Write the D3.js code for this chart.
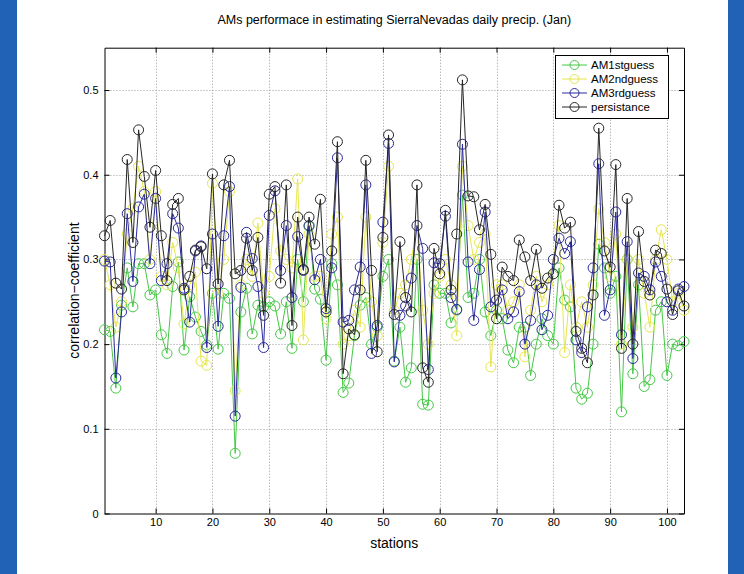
<!DOCTYPE html>
<html>
<head>
<meta charset="utf-8">
<script src="https://cdn.jsdelivr.net/npm/d3@7"></script>
<style>
  body { margin: 0; background: #2161b6; }
  #chart { position: absolute; left: 0; top: 0; }
  text { font-family: "Liberation Sans", Arial, sans-serif; fill: #000; }
</style>
</head>
<body>
<svg id="chart" width="744" height="574"></svg>
<script>
// Series, stations 1..103

const stations = d3.range(1, 104);

const am1stguess = [
  0.217, 0.215, 0.148, 0.246, 0.29, 0.244, 0.295, 0.295, 0.258, 0.264,
  0.211, 0.189, 0.268, 0.297, 0.193, 0.256, 0.232, 0.215, 0.199, 0.26,
  0.194, 0.26, 0.254, 0.071, 0.238, 0.266, 0.212, 0.246, 0.244, 0.25,
  0.245, 0.212, 0.25, 0.195, 0.3, 0.25, 0.339, 0.265, 0.253, 0.181,
  0.295, 0.27, 0.143, 0.154, 0.21, 0.246, 0.255, 0.2, 0.22, 0.28,
  0.3, 0.18, 0.22, 0.155, 0.172, 0.3, 0.129, 0.128, 0.27, 0.26,
  0.26, 0.225, 0.24, 0.376, 0.255, 0.26, 0.3, 0.238, 0.21, 0.24,
  0.23, 0.193, 0.178, 0.22, 0.22, 0.163, 0.2, 0.23, 0.21, 0.2,
  0.29, 0.252, 0.244, 0.148, 0.135, 0.142, 0.2, 0.318, 0.29, 0.26,
  0.28, 0.12, 0.3, 0.165, 0.27, 0.15, 0.158, 0.24, 0.25, 0.163,
  0.2, 0.198, 0.203
];

const am2ndguess = [
  0.3, 0.27, 0.22, 0.25, 0.33, 0.36, 0.41, 0.38, 0.3, 0.38,
  0.28, 0.27, 0.32, 0.29, 0.224, 0.27, 0.285, 0.18, 0.175, 0.39,
  0.26, 0.3, 0.38, 0.145, 0.27, 0.3, 0.28, 0.343, 0.26, 0.28,
  0.36, 0.31, 0.3, 0.29, 0.395, 0.205, 0.33, 0.28, 0.28, 0.23,
  0.33, 0.35, 0.2, 0.21, 0.24, 0.22, 0.35, 0.25, 0.21, 0.32,
  0.41, 0.24, 0.26, 0.27, 0.3, 0.34, 0.24, 0.2, 0.26, 0.28,
  0.3, 0.27, 0.21, 0.41, 0.34, 0.3, 0.32, 0.33, 0.173, 0.27,
  0.27, 0.24, 0.25, 0.27, 0.185, 0.24, 0.28, 0.25, 0.27, 0.3,
  0.34, 0.19, 0.27, 0.22, 0.25, 0.22, 0.27, 0.36, 0.32, 0.28,
  0.33, 0.2, 0.3, 0.22, 0.3, 0.26, 0.22, 0.3, 0.335, 0.3,
  0.25, 0.26, 0.24
];

const am3rdguess = [
  0.298, 0.297, 0.16, 0.238, 0.354, 0.274, 0.362, 0.377, 0.295, 0.372,
  0.275, 0.295, 0.354, 0.337, 0.266, 0.226, 0.31, 0.316, 0.196, 0.33,
  0.221, 0.328, 0.386, 0.115, 0.267, 0.332, 0.301, 0.268, 0.196, 0.352,
  0.381, 0.287, 0.34, 0.255, 0.327, 0.287, 0.34, 0.276, 0.3, 0.242,
  0.29, 0.42, 0.226, 0.228, 0.264, 0.291, 0.388, 0.189, 0.222, 0.344,
  0.437, 0.179, 0.234, 0.245, 0.278, 0.34, 0.313, 0.17, 0.296, 0.295,
  0.351, 0.255, 0.241, 0.436, 0.297, 0.228, 0.288, 0.356, 0.244, 0.252,
  0.264, 0.23, 0.238, 0.262, 0.2, 0.228, 0.27, 0.217, 0.234, 0.3,
  0.325, 0.307, 0.321, 0.205, 0.19, 0.244, 0.29, 0.413, 0.234, 0.264,
  0.356, 0.211, 0.321, 0.183, 0.284, 0.28, 0.264, 0.297, 0.28, 0.25,
  0.24, 0.265, 0.268
];

const persistance = [
  0.328, 0.346, 0.272, 0.265, 0.418, 0.32, 0.453, 0.398, 0.338, 0.405,
  0.328, 0.275, 0.365, 0.372, 0.264, 0.28, 0.311, 0.315, 0.289, 0.401,
  0.271, 0.388, 0.417, 0.283, 0.287, 0.325, 0.287, 0.326, 0.234, 0.377,
  0.386, 0.272, 0.388, 0.222, 0.35, 0.288, 0.35, 0.318, 0.371, 0.238,
  0.31, 0.439, 0.165, 0.218, 0.211, 0.264, 0.417, 0.287, 0.191, 0.326,
  0.447, 0.235, 0.321, 0.255, 0.238, 0.388, 0.172, 0.155, 0.313, 0.283,
  0.358, 0.264, 0.33, 0.512, 0.375, 0.374, 0.335, 0.365, 0.306, 0.23,
  0.291, 0.28, 0.275, 0.323, 0.303, 0.275, 0.312, 0.266, 0.278, 0.283,
  0.364, 0.337, 0.344, 0.215, 0.195, 0.178, 0.258, 0.455, 0.31, 0.291,
  0.412, 0.195, 0.372, 0.2, 0.333, 0.274, 0.258, 0.311, 0.307, 0.265,
  0.235, 0.263, 0.245
];

const seriesNames = ["AM1stguess", "AM2ndguess", "AM3rdguess", "persistance"];
const seriesColors = ["#45c845", "#e6e650", "#2a2a9c", "#262626"];
const seriesValues = [am1stguess, am2ndguess, am3rdguess, persistance];

const xTicks = [10, 20, 30, 40, 50, 60, 70, 80, 90, 100];
const yTicks = [0, 0.1, 0.2, 0.3, 0.4, 0.5];

const plot = { left: 104.5, right: 684, top: 47.7, bottom: 513.5 };

const svg = d3.select("#chart");

// white figure area between the blue strips
svg.append("rect")
  .attr("x", 17).attr("y", 0)
  .attr("width", 711).attr("height", 574)
  .attr("fill", "#ffffff");

const x = d3.scaleLinear([1, 103], [plot.left, plot.right]);
const y = d3.scaleLinear([0, 0.55], [plot.bottom, plot.top]);

// Grid
const grid = svg.append("g")
  .attr("stroke", "#9a9a9a")
  .attr("stroke-width", 1)
  .attr("stroke-dasharray", "1,2");

grid.selectAll("line.gx")
  .data(xTicks)
  .enter()
  .append("line")
  .attr("x1", (d) => Math.round(x(d)) + 0.5)
  .attr("x2", (d) => Math.round(x(d)) + 0.5)
  .attr("y1", plot.top)
  .attr("y2", plot.bottom);

grid.selectAll("line.gy")
  .data(yTicks.filter((d) => d > 0))
  .enter()
  .append("line")
  .attr("x1", plot.left)
  .attr("x2", plot.right)
  .attr("y1", (d) => Math.round(y(d)) + 0.5)
  .attr("y2", (d) => Math.round(y(d)) + 0.5);

// Axes (box with inward ticks on all sides)
const xAxisBottom = svg.append("g")
  .attr("transform", `translate(0,${plot.bottom})`)
  .call(d3.axisBottom(x).tickValues(xTicks).tickSize(-5).tickPadding(5).tickSizeOuter(0));

const xAxisTop = svg.append("g")
  .attr("transform", `translate(0,${plot.top})`)
  .call(d3.axisTop(x).tickValues(xTicks).tickSize(-5).tickFormat("").tickSizeOuter(0));

const yAxisLeft = svg.append("g")
  .attr("transform", `translate(${plot.left},0)`)
  .call(d3.axisLeft(y).tickValues(yTicks).tickSize(-5).tickPadding(6)
    .tickFormat((d) => (d === 0 ? "0" : d3.format(".1f")(d))).tickSizeOuter(0));

const yAxisRight = svg.append("g")
  .attr("transform", `translate(${plot.right},0)`)
  .call(d3.axisRight(y).tickValues(yTicks).tickSize(-5).tickFormat("").tickSizeOuter(0));

[xAxisBottom, xAxisTop, yAxisLeft, yAxisRight].forEach((ax) => {
  ax.select(".domain").attr("stroke", "#000");
  ax.selectAll(".tick line").attr("stroke", "#000");
  ax.selectAll("text")
    .style("font-family", "Liberation Sans, Arial, sans-serif")
    .style("font-size", "11px")
    .attr("fill", "#000");
});

// Series
const line = d3.line()
  .x((d, i) => x(stations[i]))
  .y((d) => y(d));

seriesValues.forEach((vals, k) => {
  const g = svg.append("g").attr("class", "series-" + k);
  g.append("path")
    .datum(vals)
    .attr("fill", "none")
    .attr("stroke", seriesColors[k])
    .attr("stroke-width", 1)
    .attr("d", line);
  g.selectAll("circle")
    .data(vals)
    .enter()
    .append("circle")
    .attr("cx", (d, i) => x(stations[i]))
    .attr("cy", (d) => y(d))
    .attr("r", 5)
    .attr("fill", "none")
    .attr("stroke", seriesColors[k])
    .attr("stroke-width", 1);
});

// Legend
const legend = svg.append("g");
legend.append("rect")
  .attr("x", 555.5).attr("y", 55.5)
  .attr("width", 113).attr("height", 63)
  .attr("fill", "#fff")
  .attr("stroke", "#000");

seriesNames.forEach((name, k) => {
  const ly = 65 + k * 14;
  legend.append("line")
    .attr("x1", 562).attr("x2", 587)
    .attr("y1", ly).attr("y2", ly)
    .attr("stroke", seriesColors[k]);
  legend.append("circle")
    .attr("cx", 574.5).attr("cy", ly).attr("r", 4.5)
    .attr("fill", "none")
    .attr("stroke", seriesColors[k]);
  legend.append("text")
    .attr("x", 591).attr("y", ly + 4)
    .style("font-size", "11.5px")
    .text(name);
});

// Titles
svg.append("text")
  .attr("x", (plot.left + plot.right) / 2)
  .attr("y", 24)
  .attr("text-anchor", "middle")
  .style("font-size", "12.5px")
  .text("AMs performace in estimating SierraNevadas daily precip. (Jan)");

svg.append("text")
  .attr("x", (plot.left + plot.right) / 2)
  .attr("y", 548)
  .attr("text-anchor", "middle")
  .style("font-size", "14px")
  .text("stations");

svg.append("text")
  .attr("text-anchor", "middle")
  .attr("transform", `translate(79,${(plot.top + plot.bottom) / 2 + 10}) rotate(-90)`)
  .style("font-size", "14px")
  .text("correlation\u2212coefficient");
</script>
</body>
</html>
